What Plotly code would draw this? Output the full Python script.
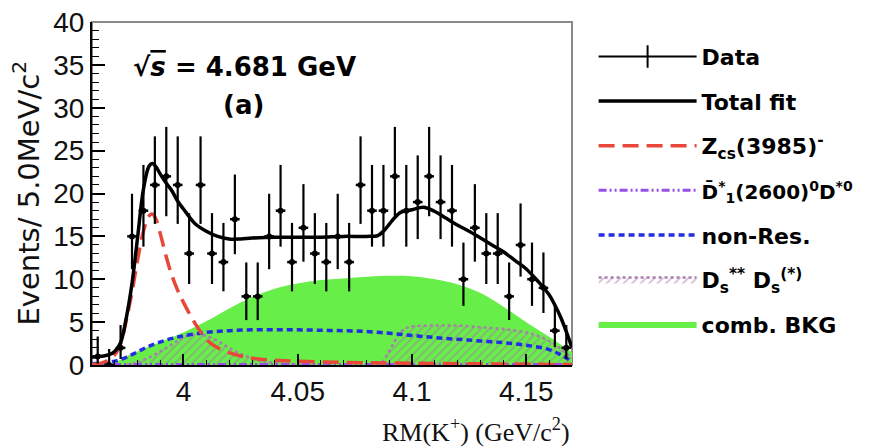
import numpy as np
import plotly.graph_objects as go

# ---------------- data ----------------
bin_centers = [round(3.9625 + 0.005 * i, 4) for i in range(42)]
counts = [1, 0, 2, 15, 18, 21, 22, 21, 13, 21,
          13, 12, 17, 8, 8, 15, 18, 12, 16, 13,
          12, 15, 12, 21, 18, 18, 22, 18, 19, 22,
          19, 18, 10, 16, 13, 13, 8, 14, 10, 9,
          4, 2]

total_x = [3.960, 3.9625, 3.965, 3.9675, 3.970, 3.9725, 3.975, 3.9775, 3.980, 3.9825,
           3.985, 3.9865, 3.988, 3.990, 3.9925, 3.995, 3.9975, 4.000, 4.005, 4.010,
           4.015, 4.020, 4.025, 4.030, 4.040, 4.050, 4.060, 4.070, 4.080, 4.085,
           4.0875, 4.090, 4.0925, 4.095, 4.100, 4.105, 4.110, 4.115, 4.120, 4.125,
           4.130, 4.135, 4.140, 4.145, 4.150, 4.155, 4.160, 4.1625, 4.165, 4.1675, 4.170]
total_y = [0.9, 1.0, 1.05, 1.2, 1.6, 2.6, 5.5, 9.5, 15.0, 20.5,
           23.2, 23.5, 23.1, 22.2, 21.2, 20.3, 19.1, 18.2, 16.5, 15.6,
           15.0, 14.7, 14.7, 14.8, 14.9, 14.9, 14.9, 15.0, 15.0, 15.1,
           15.6, 16.4, 17.2, 17.8, 18.1, 18.4, 17.9, 17.1, 16.3, 15.6,
           14.8, 14.0, 13.2, 12.2, 11.2, 9.8, 8.2, 7.0, 5.6, 3.9, 2.0]

zcs_x = [3.960, 3.965, 3.970, 3.9725, 3.975, 3.9775, 3.980, 3.9825, 3.985, 3.9865,
         3.988, 3.990, 3.9925, 3.995, 3.9975, 4.000, 4.005, 4.010, 4.015, 4.020,
         4.025, 4.030, 4.040, 4.050, 4.070, 4.100, 4.140, 4.170]
zcs_y = [0.05, 0.3, 1.2, 2.5, 5.2, 8.5, 12.3, 15.6, 17.4, 17.6,
         17.0, 15.2, 12.6, 10.4, 8.7, 7.3, 4.9, 3.0, 2.0, 1.45,
         1.05, 0.8, 0.55, 0.45, 0.3, 0.2, 0.12, 0.05]

d1_x = [3.960, 4.000, 4.050, 4.100, 4.150, 4.170]
d1_y = [0.05, 0.05, 0.05, 0.05, 0.05, 0.05]

nr_x = [3.960, 3.965, 3.970, 3.975, 3.980, 3.985, 3.990, 3.995, 4.000, 4.010,
        4.020, 4.030, 4.040, 4.050, 4.060, 4.070, 4.080, 4.090, 4.100, 4.110,
        4.120, 4.130, 4.140, 4.150, 4.160, 4.165, 4.170]
nr_y = [0.15, 0.25, 0.45, 0.9, 1.55, 2.2, 2.7, 3.1, 3.4, 3.8,
        4.0, 4.1, 4.1, 4.1, 4.05, 4.0, 3.9, 3.7, 3.45, 3.2,
        3.0, 2.8, 2.6, 2.3, 1.8, 1.2, 0.4]

ds_x = [3.975, 3.980, 3.985, 3.990, 3.995, 4.000, 4.005, 4.010, 4.015, 4.020,
        4.025, 4.030, 4.035, 4.040, 4.050, 4.085, 4.0875, 4.090, 4.0925, 4.095,
        4.0975, 4.100, 4.110, 4.120, 4.130, 4.140, 4.150, 4.155, 4.160, 4.165, 4.170]
ds_y = [0.0, 0.3, 0.9, 1.6, 2.4, 3.2, 3.6, 3.4, 2.8, 2.0,
        1.3, 0.8, 0.45, 0.25, 0.05, 0.0, 0.5, 1.6, 2.8, 3.8,
        4.3, 4.5, 4.6, 4.6, 4.4, 4.2, 3.8, 3.4, 2.8, 1.9, 0.8]

comb_x = [3.965, 3.970, 3.975, 3.980, 3.990, 4.000, 4.010, 4.020, 4.030, 4.040,
          4.050, 4.060, 4.070, 4.080, 4.090, 4.100, 4.110, 4.120, 4.130, 4.140,
          4.150, 4.160, 4.165, 4.170]
comb_y = [0.0, 0.3, 1.0, 1.6, 2.7, 3.8, 5.1, 6.6, 7.9, 8.9,
          9.5, 9.9, 10.1, 10.3, 10.4, 10.35, 10.0, 9.4, 8.4, 6.8,
          5.0, 3.3, 2.4, 1.5]

x_ticks = [4.0, 4.05, 4.1, 4.15]
x_tick_labels = ["4", "4.05", "4.1", "4.15"]
y_ticks = [0, 5, 10, 15, 20, 25, 30, 35, 40]

# Poisson (Gehrels) asymmetric errors from counts
n = np.array(counts, dtype=float)
err_up = np.sqrt(n + 0.75) + 1.0
err_dn = np.where(n > 0, n - n * (1 - 1 / (9 * np.maximum(n, 1)) - 1 / (3 * np.sqrt(np.maximum(n, 1)))) ** 3, 0.0)

LEG_FONT = dict(family="DejaVu Sans", size=22, color="black", weight="bold")

fig = go.Figure()

# comb. BKG (green)
fig.add_trace(go.Scatter(
    x=comb_x, y=comb_y, mode="lines", fill="tozeroy",
    fillcolor="rgb(104,238,72)", line=dict(width=0, color="rgb(104,238,72)", shape="spline"),
    name="comb. BKG", legendrank=7, legendgroup="g7"))

# Ds** Ds(*) hatched
fig.add_trace(go.Scatter(
    x=ds_x, y=ds_y, mode="lines", fill="tozeroy",
    fillcolor="rgba(0,0,0,0)",
    fillpattern=dict(shape="/", fgcolor="rgb(165,115,170)", bgcolor="rgba(0,0,0,0)",
                     size=6, solidity=0.3),
    line=dict(width=2.5, color="rgb(170,125,175)", dash="dot", shape="spline"),
    name="D<sub>s</sub><sup>**</sup> D<sub>s</sub><sup>(*)</sup>", legendrank=6, legendgroup="g6"))

# non-Res (blue dashed)
fig.add_trace(go.Scatter(
    x=nr_x, y=nr_y, mode="lines",
    line=dict(width=3.5, color="rgb(35,45,225)", dash="6px,4px", shape="spline"),
    name="non-Res.", legendrank=5, legendgroup="g5"))

# D1*(2600) D*0 (purple dash-dot-dot)
fig.add_trace(go.Scatter(
    x=d1_x, y=d1_y, mode="lines",
    line=dict(width=3, color="rgb(150,80,230)", dash="8px,3px,2px,3px,2px,3px"),
    name="<span style='font-size:20px'>D\u0304<sup>*</sup><sub>1</sub>(2600)<sup>0</sup>D<sup>*0</sup></span>",
    legendrank=4, legendgroup="g4"))

# Zcs(3985) (red long dash)
fig.add_trace(go.Scatter(
    x=zcs_x, y=zcs_y, mode="lines",
    line=dict(width=3.5, color="rgb(232,72,58)", dash="16px,8px", shape="spline"),
    name="Z<sub>cs</sub>(3985)<sup>-</sup>", legendrank=3, legendgroup="g3"))

# Total fit
fig.add_trace(go.Scatter(
    x=total_x, y=total_y, mode="lines",
    line=dict(width=3.5, color="black", shape="spline"),
    name="Total fit", legendrank=2, legendgroup="g2"))

# Data
fig.add_trace(go.Scatter(
    x=bin_centers, y=counts, mode="markers",
    marker=dict(symbol="circle", size=6, color="black"),
    error_y=dict(type="data", symmetric=False, array=err_up, arrayminus=err_dn,
                 thickness=2.2, width=0, color="black"),
    error_x=dict(type="constant", value=0.0021, thickness=2.5, width=0, color="black"),
    showlegend=False, name="Data"))

# legend entry for data (line with vertical tick)
fig.add_trace(go.Scatter(
    x=[None], y=[None], mode="lines+markers",
    line=dict(width=2, color="black"),
    marker=dict(symbol="line-ns", size=18, line=dict(width=2, color="black")),
    name="Data", legendrank=1, legendgroup="g1"))

fig.update_layout(
    width=875, height=447,
    margin=dict(l=92, r=303, t=22, b=82, autoexpand=False),
    paper_bgcolor="white", plot_bgcolor="white",
    showlegend=True,
    legend=dict(x=1.045, y=0.96, xanchor="left", yanchor="top",
                font=LEG_FONT, itemwidth=98, traceorder="grouped",
                tracegroupgap=13, bgcolor="rgba(0,0,0,0)"),
    xaxis=dict(range=[3.96, 4.17], tickvals=x_ticks, ticktext=x_tick_labels,
               automargin=False,
               ticks="inside", ticklen=11, tickwidth=1.5, tickcolor="black",
               showline=True, linecolor="black", linewidth=2, mirror=False,
               showgrid=False, zeroline=False,
               tickfont=dict(family="Liberation Sans", size=28, color="#111"),
               minor=dict(dtick=0.01, ticks="inside", ticklen=5, tickwidth=1.2,
                          tickcolor="black", tick0=4.0, showgrid=False)),
    yaxis=dict(range=[0, 40], tickvals=y_ticks, automargin=False,
               ticks="inside", ticklen=13, tickwidth=1.5, tickcolor="black",
               showline=True, linecolor="black", linewidth=2, mirror=False,
               showgrid=False, zeroline=False,
               tickfont=dict(family="Liberation Sans", size=28, color="#111"),
               minor=dict(dtick=1, ticks="inside", ticklen=7, tickwidth=1.2,
                          tickcolor="black", showgrid=False)),
    shapes=[dict(type="rect", xref="paper", yref="paper", x0=0, x1=1, y0=0, y1=1,
                 line=dict(color="#8a8a8a", width=2), layer="below")],
    annotations=[
        dict(text="RM(K<sup>+</sup>) (GeV/c<sup>2</sup>)", xref="paper", yref="paper",
             x=1.0, y=-0.19, xanchor="right", yanchor="middle", showarrow=False,
             font=dict(family="Liberation Serif", size=26, color="#111")),
        dict(text="Events/ 5.0MeV/c<sup>2</sup>", xref="paper", yref="paper",
             x=-0.1375, y=0.5, xanchor="center", yanchor="middle", textangle=-90,
             showarrow=False, font=dict(family="DejaVu Sans", size=29, color="#111")),
        dict(text="\u221a<span style='text-decoration:overline'><i>s</i></span> = 4.681 GeV",
             xref="paper", yref="paper",
             x=0.3167, y=0.869, xanchor="center", yanchor="middle", showarrow=False,
             font=dict(family="DejaVu Sans", size=26, color="black", weight="bold")),
        dict(text="(a)", xref="paper", yref="paper",
             x=0.315, y=0.758, xanchor="center", yanchor="middle", showarrow=False,
             font=dict(family="DejaVu Sans", size=26, color="black", weight="bold")),
    ],
)

fig.write_html("out.html", config={"displayModeBar": False},
               post_script="document.body.style.margin='0';document.body.style.padding='0';")
